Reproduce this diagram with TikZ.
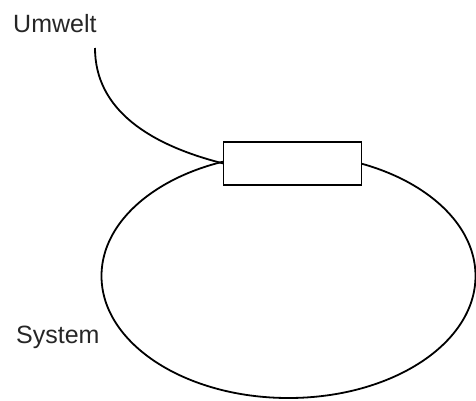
\documentclass[tikz,border=0pt]{standalone}
\usepackage{fontspec}
\setmainfont{Liberation Sans}
\usetikzlibrary{shapes.geometric}
\begin{document}
\begin{tikzpicture}[x=1pt,y=-1pt,
  line/.style={line width=1.8pt, black},
  lbl/.style={anchor=base west, inner sep=0pt, font=\fontsize{25}{30}\selectfont, text=black!85},
  sysshape/.style={line, draw, ellipse, minimum width=374pt, minimum height=244pt, inner sep=0pt, outer sep=0pt},
  boxshape/.style={line, draw, fill=white, rectangle, minimum width=138pt, minimum height=43pt, inner sep=0pt, outer sep=0pt}]
\useasboundingbox (0,0) rectangle (476,400);
\node[sysshape] (sys) at (288.5,276) {};
\node[boxshape] (box) at (292.5,163.5) {};
\node[lbl] (umwelt) at (13,32) {Umwelt};
\node[lbl] (system) at (16,343) {System};
\coordinate (ustart) at (95,48);
\draw[line] (ustart) .. controls (95,110) and (150,145) .. (box.west);
\end{tikzpicture}
\end{document}
